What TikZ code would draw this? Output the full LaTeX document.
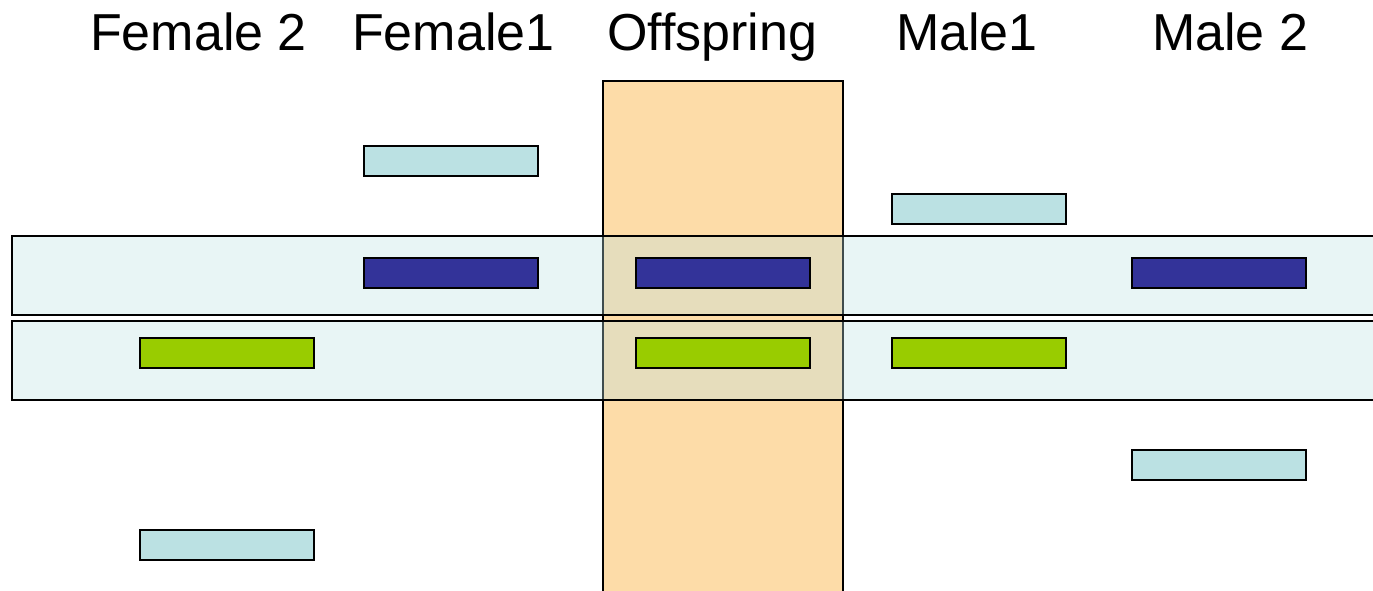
\documentclass[tikz,border=0pt]{standalone}
\usepackage{fontspec}
\setmainfont{Liberation Sans}
\definecolor{colorange}{RGB}{253,220,168}
\definecolor{bandblue}{RGB}{187,225,227}
\definecolor{lightbox}{RGB}{187,225,227}
\definecolor{darkbox}{RGB}{51,51,153}
\definecolor{greenbox}{RGB}{153,204,0}
\tikzset{
  lbl/.style={anchor=base west,inner sep=0pt,font=\fontsize{52}{60}\selectfont},
  chrom/.style={draw=black,line width=2.6pt,inner sep=0pt,minimum width=174pt,minimum height=30pt,anchor=north west},
  lightc/.style={chrom,fill=lightbox},
  darkc/.style={chrom,fill=darkbox},
  greenc/.style={chrom,fill=greenbox},
  band/.style={draw=black,line width=2pt,fill=bandblue,fill opacity=0.34},
  column/.style={draw=black,line width=2.4pt,fill=colorange}
}
\begin{document}
\begin{tikzpicture}[x=1pt,y=-1pt]
\useasboundingbox (0,0) rectangle (1373,590);
\clip (0,0) rectangle (1373,590);
% labels
\node[lbl] (f2) at (90,50) {Female 2};
\node[lbl] (f1) at (352,50) {Female1};
\node[lbl] (off) at (607,50) {Offspring};
\node[lbl] (m1) at (896,50) {Male1};
\node[lbl] (m2) at (1152,50) {Male 2};
% offspring column
\draw[column] (603,600) -- (603,81) -- (843,81) -- (843,600);
% bands
\draw[band] (1390,236) -- (12,236) -- (12,315) -- (1390,315);
\draw[band] (1390,321) -- (12,321) -- (12,400) -- (1390,400);
% chromosomes
\node[lightc] (f1a) at (362.5,144.5) {};
\node[darkc]  (f1b) at (362.5,256.5) {};
\node[greenc] (f2a) at (138.5,336.5) {};
\node[lightc] (f2b) at (138.5,528.5) {};
\node[darkc]  (oa)  at (634.5,256.5) {};
\node[greenc] (ob)  at (634.5,336.5) {};
\node[lightc] (m1a) at (890.5,192.5) {};
\node[greenc] (m1b) at (890.5,336.5) {};
\node[darkc]  (m2a) at (1130.5,256.5) {};
\node[lightc] (m2b) at (1130.5,448.5) {};
\end{tikzpicture}
\end{document}
